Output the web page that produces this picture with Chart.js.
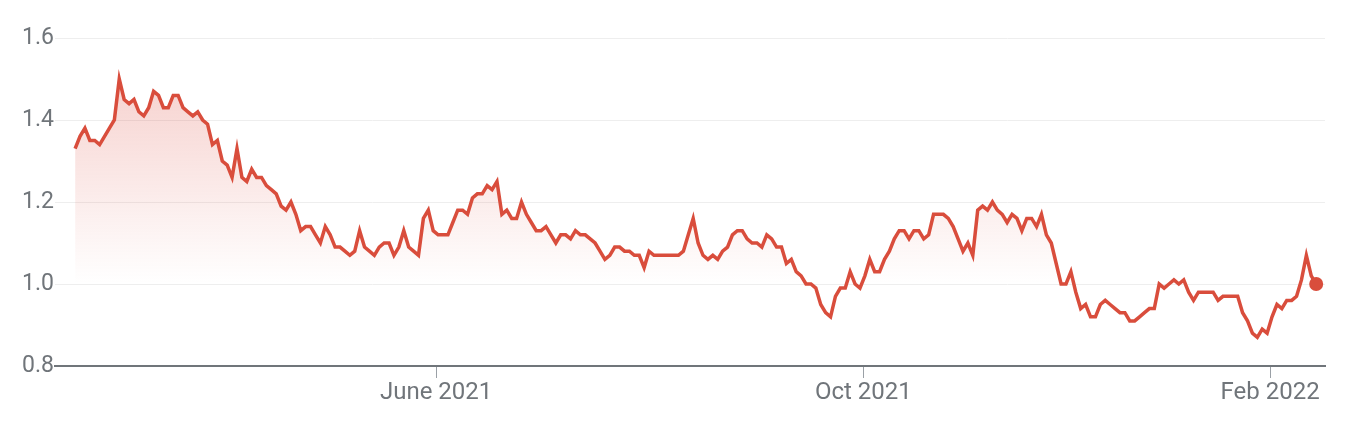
<!DOCTYPE html>
<html>
<head>
<meta charset="utf-8">
<script src="https://cdn.jsdelivr.net/npm/chart.js@4/dist/chart.umd.min.js"></script>
<style>
    body { margin: 0; background: #fff; }
    #wrap { width: 1364px; height: 440px; }
</style>
</head>
<body>
<div id="wrap"><canvas id="priceChart" width="1364" height="440"></canvas></div>
<script>
// Daily closing values, one per trading day (Feb 2021 - Feb 2022)
const prices = [
    1.33, 1.36, 1.38, 1.35, 1.35, 1.34, 1.36, 1.38, 1.40, 1.50,
    1.45, 1.44, 1.45, 1.42, 1.41, 1.43, 1.47, 1.46, 1.43, 1.43,
    1.46, 1.46, 1.43, 1.42, 1.41, 1.42, 1.40, 1.39, 1.34, 1.35,
    1.30, 1.29, 1.26,
    1.33, 1.26, 1.25, 1.28, 1.26, 1.26, 1.24, 1.23, 1.22, 1.19,
    1.18, 1.20, 1.17, 1.13, 1.14, 1.14, 1.12, 1.10, 1.14, 1.12,
    1.09, 1.09, 1.08, 1.07, 1.08, 1.13, 1.09, 1.08, 1.07, 1.09,
    1.10, 1.10,
    1.07, 1.09, 1.13, 1.09, 1.08, 1.07, 1.16, 1.18, 1.13, 1.12,
    1.12, 1.12, 1.15, 1.18, 1.18, 1.17, 1.21, 1.22, 1.22, 1.24,
    1.23, 1.25, 1.17, 1.18, 1.16, 1.16, 1.20, 1.17, 1.15, 1.13,
    1.13, 1.14,
    1.12, 1.10, 1.12, 1.12, 1.11, 1.13, 1.12, 1.12, 1.11, 1.10,
    1.08, 1.06, 1.07, 1.09, 1.09, 1.08, 1.08, 1.07, 1.07, 1.04,
    1.08, 1.07, 1.07, 1.07, 1.07, 1.07, 1.07, 1.08, 1.12, 1.16,
    1.10, 1.07, 1.06,
    1.07, 1.06, 1.08, 1.09, 1.12, 1.13, 1.13, 1.11, 1.10, 1.10,
    1.09, 1.12, 1.11, 1.09, 1.09, 1.05, 1.06, 1.03, 1.02, 1.00,
    1.00, 0.99, 0.95, 0.93, 0.92, 0.97, 0.99, 0.99, 1.03, 1.00,
    0.99, 1.02, 1.06,
    1.03, 1.03, 1.06, 1.08, 1.11, 1.13, 1.13, 1.11, 1.13, 1.13,
    1.11, 1.12, 1.17, 1.17, 1.17, 1.16, 1.14, 1.11, 1.08, 1.10,
    1.07, 1.18, 1.19, 1.18, 1.20, 1.18, 1.17, 1.15, 1.17, 1.16,
    1.13, 1.16,
    1.16, 1.14, 1.17, 1.12, 1.10, 1.05, 1.00, 1.00, 1.03, 0.98,
    0.94, 0.95, 0.92, 0.92, 0.95, 0.96, 0.95, 0.94, 0.93, 0.93,
    0.91, 0.91, 0.92, 0.93, 0.94, 0.94, 1.00, 0.99, 1.00, 1.01,
    1.00, 1.01,
    0.98, 0.96, 0.98, 0.98, 0.98, 0.98, 0.96, 0.97, 0.97, 0.97,
    0.97, 0.93, 0.91, 0.88, 0.87, 0.89, 0.88, 0.92, 0.95, 0.94,
    0.96, 0.96, 0.97, 1.01, 1.07, 1.02, 1.00
];

// Month ticks (trading-day index where each month starts)
const monthTickIdx = [73.6, 160.7, 243.6];
const monthTickLabels = ['June 2021', 'Oct 2021', 'Feb 2022'];

// Y axis ticks
const yTicks = [0.8, 1.0, 1.2, 1.4, 1.6];

const dayIndex = prices.map((p, i) => i);
const lastIdx = prices.length - 1;

const LINE_RED = '#d94d3c';
const TEXT_GREY = '#70757a';

// Fill under the line, fading out towards the 1.0 level
function areaFill(context) {
    const chart = context.chart;
    const area = chart.chartArea;
    if (!area) return 'rgba(219, 68, 55, 0.1)';
    const yScale = chart.scales.y;
    const top = yScale.getPixelForValue(Math.max(...prices));
    const bottom = yScale.getPixelForValue(1.0);
    const grad = chart.ctx.createLinearGradient(0, top, 0, bottom);
    grad.addColorStop(0, 'rgba(219, 68, 55, 0.24)');
    grad.addColorStop(1, 'rgba(219, 68, 55, 0)');
    return grad;
}

Chart.defaults.font.family = 'Roboto, "Noto Sans", sans-serif';
Chart.defaults.color = TEXT_GREY;

new Chart(document.getElementById('priceChart'), {
    type: 'line',
    data: {
        labels: dayIndex,
        datasets: [{
            data: prices,
            borderColor: LINE_RED,
            borderWidth: 3.5,
            backgroundColor: areaFill,
            fill: 'start',
            tension: 0,
            pointRadius: (ctx) => ctx.dataIndex === lastIdx ? 7 : 0,
            pointHoverRadius: (ctx) => ctx.dataIndex === lastIdx ? 7 : 0,
            pointBackgroundColor: LINE_RED,
            pointBorderWidth: 0,
            clip: false
        }]
    },
    options: {
        responsive: false,
        animation: false,
        events: [],
        layout: {
            padding: { top: 38, left: 22, right: 39, bottom: 0 }
        },
        plugins: {
            legend: { display: false },
            tooltip: { enabled: false }
        },
        scales: {
            x: {
                type: 'linear',
                min: -4.1,
                max: lastIdx + 1.8,
                afterBuildTicks: (scale) => {
                    scale.ticks = monthTickIdx.map(v => ({ value: v }));
                },
                afterFit: (scale) => { scale.height = 74; },
                border: { display: true, color: TEXT_GREY, width: 2 },
                grid: {
                    drawOnChartArea: false,
                    drawTicks: true,
                    tickLength: 12,
                    tickColor: '#9aa0a6',
                    tickWidth: 1
                },
                ticks: {
                    autoSkip: false,
                    maxRotation: 0,
                    padding: 1,
                    font: { size: 24 },
                    callback: (value, index) => monthTickLabels[index]
                }
            },
            y: {
                min: 0.8,
                max: 1.6,
                afterBuildTicks: (scale) => {
                    scale.ticks = yTicks.map(v => ({ value: v }));
                },
                afterFit: (scale) => { scale.width = 33; },
                border: { display: false },
                grid: {
                    color: (ctx) => ctx.tick && ctx.tick.value === 0.8 ? 'rgba(0,0,0,0)' : '#eeeeee',
                    lineWidth: 1,
                    drawTicks: false
                },
                ticks: {
                    crossAlign: 'far',
                    padding: 4,
                    font: { size: 23 },
                    callback: (value) => value.toFixed(1)
                }
            }
        }
    }
});
</script>
</body>
</html>
